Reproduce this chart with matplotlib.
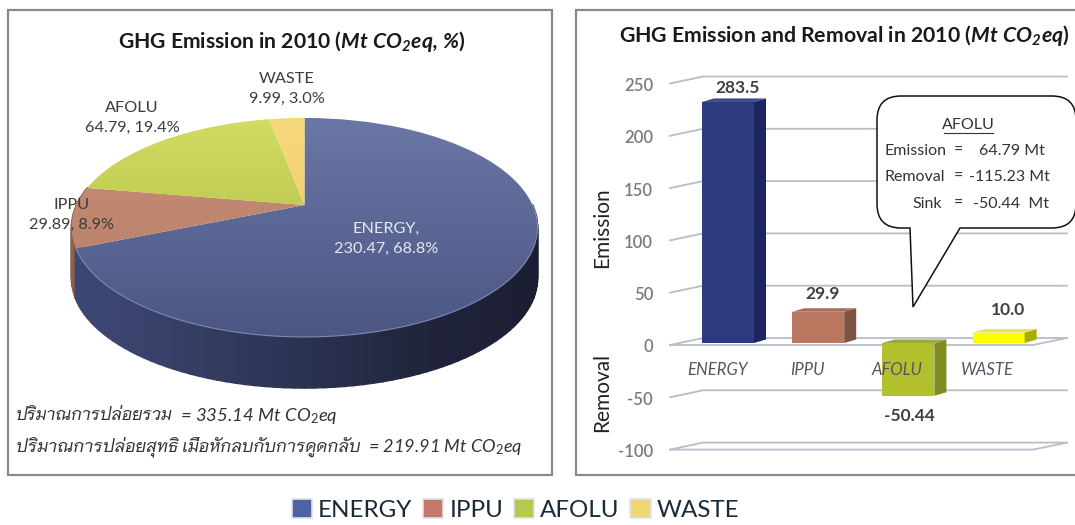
import glob

import numpy as np
import matplotlib
matplotlib.use("Agg")
import matplotlib.pyplot as plt
from matplotlib import font_manager as fm
from matplotlib.colors import to_rgb
from matplotlib.patches import Rectangle, Polygon, PathPatch, Patch
from matplotlib.path import Path
from matplotlib.transforms import Transform, ScaledTranslation

# Thai face sits with the google fonts, register it by file
for fn in glob.glob('/usr/share/fonts/truetype/google-fonts/Niramit-*.ttf'):
    fm.fontManager.addfont(fn)

plt.rcParams['font.family'] = ['Lato', 'Niramit', 'Noto Sans', 'DejaVu Sans']
plt.rcParams['axes.unicode_minus'] = False
plt.rcParams['mathtext.fontset'] = 'custom'
plt.rcParams['mathtext.rm'] = 'Lato'
plt.rcParams['mathtext.it'] = 'Lato:italic'
plt.rcParams['mathtext.bf'] = 'Lato:bold'
plt.rcParams['mathtext.bfit'] = 'Lato:italic:bold'

# data
pie_names = ['ENERGY', 'IPPU', 'AFOLU', 'WASTE']
pie_values = [230.47, 29.89, 64.79, 9.99]
pie_percent = [68.8, 8.9, 19.4, 3.0]
bar_values = [230.47, 29.89, -50.44, 9.99]
bar_labels = ['283.5', '29.9', '-50.44', '10.0']
y_ticks = [250, 200, 150, 100, 50, 0, -50, -100]

W, H = 1075, 525
fig = plt.figure(figsize=(W / 100, H / 100), dpi=100, facecolor='white')


def px_axes(x0, y0, x1, y1):
    return fig.add_axes([x0 / W, 1 - y1 / H, (x1 - x0) / W, (y1 - y0) / H])


# background + panel frames, in pixels
bg = px_axes(0, 0, W, H)
bg.set_xlim(0, W)
bg.set_ylim(H, 0)
bg.axis('off')
bg.add_patch(Rectangle((8, 10), 544, 465, fc='white', ec='#8a8a8a', lw=1.6))
bg.add_patch(Rectangle((576, 10), 510, 465, fc='white', ec='#8a8a8a', lw=1.6))


# perspective view of the unit pie, gives pixels
class PieView(Transform):
    input_dims = 2
    output_dims = 2
    is_separable = False
    has_inverse = False

    def transform_non_affine(self, values):
        u, v = values[:, 0], values[:, 1]
        d = 1 + 0.205 * v
        return np.column_stack((304.5 + 228 * u / d, 205 - 104.9 * v / d))


view = PieView()
depth = 51

ax = px_axes(0, 0, W, H)
ax.patch.set_alpha(0)

# rim wall under the top face
fracs = np.array(pie_values) / sum(pie_values)
energy_end = 90 - 360 * fracs[0]
wall_x = [65, 107, 280, 430, 535]
wall_c = np.array([to_rgb(c) for c in ['#3c4672', '#3c4672', '#2e3555', '#20243c', '#1b1e33']])
angles = np.arange(-190, 1, 2.0)
for a0, a1 in zip(angles[:-1], angles[1:]):
    t = np.radians([a0, a1])
    rim = view.transform_non_affine(np.column_stack((np.cos(t), np.sin(t))))
    xm = rim[:, 0].mean()
    if a1 <= energy_end:
        col = '#8d5f4d'
    else:
        col = [np.interp(xm, wall_x, wall_c[:, i]) for i in range(3)]
    pts = [rim[0], rim[1], rim[1] + [0, depth], rim[0] + [0, depth]]
    ax.add_patch(Polygon(pts, fc=col, ec=col, lw=1.2, zorder=1))

# top faces, gradient clipped to each wedge
wedges, _ = ax.pie(pie_values, startangle=90, counterclock=False, radius=1, center=(0, 0), frame=True)
top_cols = [('#6b77a6', '#4b5682'), ('#c78f78', '#b57d66'), ('#d2dc62', '#a9b53c'), ('#f6d87c', '#eec765')]
grad = np.linspace(0, 1, 128)[:, None]
for w, (c0, c1) in zip(wedges, top_cols):
    w.set_transform(view + ax.transData)
    w.set_facecolor('none')
    w.set_edgecolor('none')
    c0, c1 = np.array(to_rgb(c0)), np.array(to_rgb(c1))
    img = (c0 + (c1 - c0) * grad)[:, None, :].reshape(128, 1, 3)
    im = ax.imshow(img, extent=(60, 545, 340, 115), aspect='auto', zorder=2, origin='upper')
    im.set_clip_path(w)
ax.set_aspect('auto')
ax.set_xlim(0, W)
ax.set_ylim(H, 0)
ax.axis('off')

# thin light line on the front rim
t = np.radians(np.arange(energy_end, 1, 2.0))
rim = view.transform_non_affine(np.column_stack((np.cos(t), np.sin(t))))
ax.plot(rim[:, 0], rim[:, 1], color='#8089b3', lw=0.8, zorder=3)

ax.text(292, 41, r'GHG Emission in 2010 ($\mathbfit{Mt\ CO_2eq{,}\ \%}$)', fontsize=15.2, fontweight='bold',
        ha='center', va='center', color='#1a1a1a')

pie_pos = [(386, 239), (72, 215), (132, 118), (287, 89)]
pie_txt = ['#e6e8f0', '#3c3c3c', '#3c3c3c', '#3c3c3c']
for i, name in enumerate(pie_names):
    sep = ',\n' if i == 0 else '\n'
    ax.text(pie_pos[i][0], pie_pos[i][1], f'{name}{sep}{pie_values[i]}, {pie_percent[i]}%', color=pie_txt[i],
            fontsize=11.7, ha='center', va='center', linespacing=1.55, zorder=5)

# thai part and number part placed apart so the numbers land where they should
thai = ['Niramit', 'DejaVu Sans']
ax.text(16, 416, 'ปริมาณการปล่อยรวม', fontsize=12.1, style='italic', family=thai, ha='left', va='center', color='#333333')
ax.text(180, 416, '= 335.14 $\\mathit{Mt\\ CO_2eq}$', fontsize=13.3, style='italic', ha='left', va='center', color='#333333')
ax.text(16, 447, 'ปริมาณการปล่อยสุทธิ เมื่อหักลบกับการดูดกลับ', fontsize=12.3, style='italic', family=thai, ha='left', va='center', color='#333333')
ax.text(368, 447, '= 219.91 $\\mathit{Mt\\ CO_2eq}$', fontsize=13.1, style='italic', ha='left', va='center', color='#333333')

# bar panel, x=i is bar centre, y in chart units
ax2 = px_axes(660, 60, W, 470)
sx, sy = 90.2, 1.046
ax2.set_xlim((660 - 728) / sx, (W - 728) / sx)
ax2.set_ylim((343 - 470) / sy, (343 - 60) / sy)
ax2.patch.set_alpha(0)
for s in ax2.spines.values():
    s.set_visible(False)
ax2.set_xticks([])
ax2.set_yticks(y_ticks)
ax2.tick_params(axis='y', length=0, pad=5, labelsize=12, labelcolor='#7a7a7a')
shift = ScaledTranslation(0, -3 / 100, fig.dpi_scale_trans)
for lab in ax2.get_yticklabels():
    lab.set_transform(lab.get_transform() + shift)
    lab.set_fontweight('semibold')

grid_c = '#b9bcc9'
x_front, x_back, x_end, x_floor = (670 - 728) / sx, (703 - 728) / sx, (1067 - 728) / sx, (1033 - 728) / sx
off_back, off_front = 5 / sy, -2 / sy
for v in y_ticks:
    ax2.plot([x_front, x_back, x_end], [v + off_front, v + off_back, v + off_back], color=grid_c, lw=1.3, zorder=1)
    if v in (0, -100):
        ax2.plot([x_front, x_floor, x_end], [v + off_front, v + off_front, v + off_back], color=grid_c, lw=1.3, zorder=1)

front = ['#2e3a7e', '#b9785f', '#b3c02e', '#ffff00']
side = ['#1d2560', '#7d5344', '#7e8c20', '#a5ad00']
top = ['#3d4a8c', '#a86d57', '#9da83a', '#e6e850']
bw = 52 / sx
ddx, ddy = 12 / sx, 3.5 / sy
x_pos = np.arange(len(bar_values))
ax2.bar(x_pos, bar_values, width=bw, color=front, zorder=3)
for i, v in enumerate(bar_values):
    xr = i + bw / 2
    xl = i - bw / 2
    hi, lo = max(v, 0), min(v, 0)
    ax2.add_patch(Polygon([(xr, lo), (xr + ddx, lo + ddy), (xr + ddx, hi + ddy), (xr, hi)], fc=side[i], ec='none', zorder=3))
    ax2.add_patch(Polygon([(xl, hi), (xl + ddx, hi + ddy), (xr + ddx, hi + ddy), (xr, hi)], fc=top[i], ec='none', zorder=3))

# value labels and categories
lab_off = [(10, 14), (4, 18), (1, -20), (9, 23)]
for i, v in enumerate(bar_values):
    ax2.annotate(bar_labels[i], (i, v), xytext=lab_off[i], textcoords='offset pixels', fontsize=12.5, fontweight='bold',
                 color='#404040', ha='center', va='center', zorder=6)
for i, name in enumerate(pie_names):
    ax2.annotate(name, (i, 0), xytext=(-11, -27), textcoords='offset pixels', fontsize=12, style='italic',
                 color='#555566', ha='center', va='center', zorder=6)

# titles and side labels are in pixel coords on top
top_ax = px_axes(0, 0, W, H)
top_ax.set_xlim(0, W)
top_ax.set_ylim(H, 0)
top_ax.axis('off')
top_ax.text(844, 36, r'GHG Emission and Removal in 2010 ($\mathbfit{Mt\ CO_2eq}$)', fontsize=15.3, fontweight='bold',
            ha='center', va='center', color='#1a1a1a')
top_ax.text(602, 228, 'Emission', rotation=90, fontsize=15, ha='center', va='center', color='#222222')
top_ax.text(602, 392, 'Removal', rotation=90, fontsize=15, ha='center', va='center', color='#222222')

# callout bubble
l, r, t_, b, c = 877, 1076, 96, 228, 24
verts = [(l + c, t_), (r - c, t_), (r, t_), (r, t_ + c), (r, b - c), (r, b), (r - c, b), (960, b), (913, 307), (910, b),
         (l + c, b), (l, b), (l, b - c), (l, t_ + c), (l, t_), (l + c, t_)]
codes = [Path.MOVETO, Path.LINETO, Path.CURVE3, Path.CURVE3, Path.LINETO, Path.CURVE3, Path.CURVE3, Path.LINETO,
         Path.LINETO, Path.LINETO, Path.LINETO, Path.CURVE3, Path.CURVE3, Path.LINETO, Path.CURVE3, Path.CURVE3]
top_ax.add_patch(PathPatch(Path(verts, codes), fc='white', ec='#111111', lw=1.1, zorder=4))
tc = '#333333'
fs = 11.5
top_ax.text(968, 125, 'AFOLU', fontsize=fs, ha='center', va='center', color=tc, zorder=5)
top_ax.plot([944, 993], [133, 133], color=tc, lw=0.8, zorder=5)
for y, a, val, xr in [(151, 'Emission', '64.79 Mt', 1045), (177, 'Removal', '-115.23 Mt', 1050)]:
    top_ax.text(885, y, a, fontsize=fs, ha='left', va='center', color=tc, zorder=5)
    top_ax.text(958, y, '=', fontsize=fs, ha='center', va='center', color=tc, zorder=5)
    top_ax.text(xr, y, val, fontsize=fs, ha='right', va='center', color=tc, zorder=5)
top_ax.text(912, 204, 'Sink', fontsize=fs, ha='left', va='center', color=tc, zorder=5)
top_ax.text(958, 204, '=', fontsize=fs, ha='center', va='center', color=tc, zorder=5)
top_ax.text(1049, 204, '-50.44  Mt', fontsize=fs, ha='right', va='center', color=tc, zorder=5)

# legend
leg_cols = ['#4f62a5', '#c4796a', '#b5c84f', '#f0d675']
handles = [Patch(facecolor=c2, edgecolor='#dfe3ee', lw=1.2, label=n) for c2, n in zip(leg_cols, pie_names)]
top_ax.legend(handles=handles, ncol=4, loc='center', bbox_to_anchor=(515.5, 510), bbox_transform=top_ax.transData,
              frameon=False, fontsize=17.4, handlelength=0.83, handleheight=0.83, handletextpad=0.25, columnspacing=0.45,
              labelcolor='#1a2a3a', borderpad=0)

fig.savefig('out.png', dpi=100)
